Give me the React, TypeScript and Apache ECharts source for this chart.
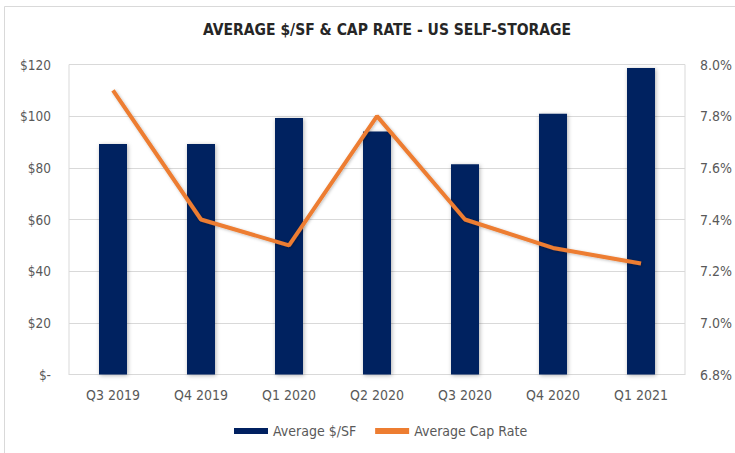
import React, { useEffect, useRef } from "react";
import * as echarts from "echarts";

const categories = ["Q3 2019", "Q4 2019", "Q1 2020", "Q2 2020", "Q3 2020", "Q4 2020", "Q1 2021"];
const avgPricePerSF = [89.2, 89.2, 99.3, 94.1, 81.4, 100.9, 118.6];
const avgCapRate = [7.9, 7.4, 7.3, 7.8, 7.4, 7.29, 7.23];
const leftTicks = { min: 0, max: 120, interval: 20 };
const rightTicks = { min: 6.8, max: 8.0, interval: 0.2 };
const titleText = "AVERAGE $/SF & CAP RATE - US SELF-STORAGE";
const seriesNames = ["Average $/SF", "Average Cap Rate"];

const FONT = "'DejaVu Sans Condensed', 'Liberation Sans Narrow', sans-serif";
const LABEL_COLOR = "#595959";

export default function App() {
  const ref = useRef<HTMLDivElement>(null);
  useEffect(() => {
    if (!ref.current) return;
    const chart = echarts.init(ref.current, undefined, { renderer: "svg" });
    chart.setOption({
      animation: false,
      backgroundColor: "#ffffff",
      textStyle: { fontFamily: FONT },
      graphic: [
        {
          type: "rect",
          shape: { x: 4.5, y: 6.5, width: 900, height: 600 },
          style: { fill: "none", stroke: "#d9d9d9", lineWidth: 1 },
          silent: true,
          z: -1,
        },
      ],
      title: {
        text: titleText,
        left: 382,
        top: 17,
        textAlign: "center",
        textStyle: { fontFamily: FONT, fontSize: 15.5, fontWeight: "bold", color: "#262626" },
      },
      legend: {
        left: 234,
        top: 424,
        padding: 0,
        itemWidth: 34,
        itemHeight: 6,
        itemGap: 19,
        textStyle: { fontFamily: FONT, fontSize: 14, color: LABEL_COLOR },
        data: [
          { name: seriesNames[0], icon: "rect" },
          { name: seriesNames[1], icon: "rect" },
        ],
      },
      grid: {
        left: 69,
        right: 39,
        top: 64.5,
        bottom: 78.5,
        show: true,
        borderColor: "#d9d9d9",
        borderWidth: 1,
      },
      xAxis: {
        type: "category",
        data: categories,
        axisLine: { show: true, lineStyle: { color: "#d9d9d9" } },
        axisTick: { show: false },
        axisLabel: { color: LABEL_COLOR, fontSize: 14, margin: 13, fontFamily: FONT },
      },
      yAxis: [
        {
          type: "value",
          min: leftTicks.min,
          max: leftTicks.max,
          interval: leftTicks.interval,
          axisLine: { show: false },
          axisTick: { show: false },
          splitLine: { lineStyle: { color: "#d9d9d9" } },
          axisLabel: {
            color: LABEL_COLOR,
            fontSize: 13.5,
            margin: 18,
            fontFamily: FONT,
            formatter: (v: number) => (v === 0 ? "$-" : "$" + v),
          },
        },
        {
          type: "value",
          min: rightTicks.min,
          max: rightTicks.max,
          interval: rightTicks.interval,
          position: "right",
          axisLine: { show: false },
          axisTick: { show: false },
          splitLine: { show: false },
          axisLabel: {
            color: LABEL_COLOR,
            fontSize: 14,
            margin: 15,
            fontFamily: FONT,
            formatter: (v: number) => v.toFixed(1) + "%",
          },
        },
      ],
      series: [
        {
          name: seriesNames[0],
          type: "bar",
          yAxisIndex: 0,
          data: avgPricePerSF,
          barWidth: 28,
          itemStyle: {
            color: "#002060",
            shadowColor: "rgba(0,0,0,0.3)",
            shadowBlur: 4,
            shadowOffsetX: 1,
            shadowOffsetY: 1,
          },
        },
        {
          name: seriesNames[1],
          type: "line",
          yAxisIndex: 1,
          data: avgCapRate,
          symbol: "none",
          lineStyle: {
            color: "#ED7D31",
            width: 4,
            shadowColor: "rgba(0,0,0,0.25)",
            shadowBlur: 3,
            shadowOffsetX: 1,
            shadowOffsetY: 1,
          },
          itemStyle: { color: "#ED7D31" },
          z: 3,
        },
      ],
    });
    return () => chart.dispose();
  }, []);
  return (
    <div
      ref={ref}
      style={{ position: "fixed", left: 0, top: 0, width: 735, height: 453 }}
    />
  );
}
